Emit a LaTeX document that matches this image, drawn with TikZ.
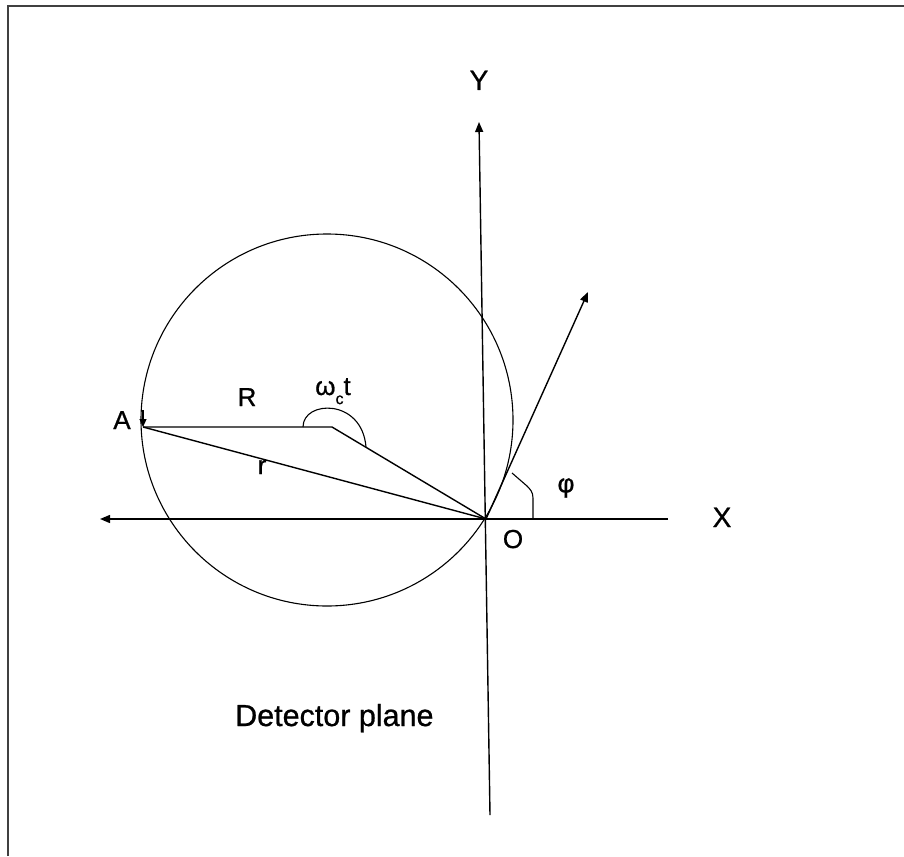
\documentclass[tikz,border=0pt]{standalone}
\usepackage{fontspec}
\setmainfont[FakeBold=0.8]{Liberation Sans}
\usetikzlibrary{arrows.meta}
\begin{document}
\begin{tikzpicture}[x=1pt,y=-1pt,
  ln/.style={line width=1.4pt},
  thin line/.style={line width=1.1pt},
  tip/.style={-{Triangle[length=10pt,width=8pt]}},
  lab/.style={font=\fontsize{26}{30}\selectfont, inner sep=0pt},
  axlab/.style={font=\fontsize{28}{32}\selectfont, inner sep=0pt},
  title/.style={font=\fontsize{30.5}{34}\selectfont, inner sep=0pt}]
\useasboundingbox (0,0) rectangle (904,856);
\fill[white] (0,0) rectangle (904,856);
% frame (left and top edges only)
\draw[line width=2pt, black!75] (8,856) -- (8,6) -- (904,6);
% points
\coordinate (O) at (486,519);
\coordinate (C) at (332,427);
\coordinate (A) at (143,427);
\coordinate (Ctr) at (327,420);
\coordinate (Ytop) at (479,122);
\coordinate (Ybot) at (490,815);
\coordinate (Xleft) at (100,519);
\coordinate (Xright) at (668,519);
\coordinate (P) at (588,292);
\coordinate (Astart) at (143,410);
% circle
\draw[thin line] (Ctr) circle[radius=186];
\draw[thin line, -{Triangle[length=8pt,width=7pt]}] (Astart) -- (A);
% axes
\draw[ln, tip] (Ybot) -- (Ytop);
\draw[ln, tip] (Xright) -- (Xleft);
\draw[ln, tip] (O) -- (P);
% radius vectors
\draw[ln] (A) -- (C) -- (O);
\draw[ln] (A) -- (O);
% angle arcs
\draw[thin line] (303,427) .. controls (303,400) and (362,398) .. (366,447);
\draw[thin line] (533,519) -- (533,498) .. controls (533,492) and (530,489) .. (527,486) -- (512,473);
% labels
\node[lab, anchor=base] (lA) at (122,429) {A};
\node[lab, anchor=base] (lR) at (247,406) {R};
\node[lab, anchor=center] (lr) at (262,467) {r};
\node[lab, anchor=base] (lw) at (333,395) {ω\raisebox{-0.35em}{\fontsize{16}{16}\selectfont c}t};
\node[lab, anchor=base] (lO) at (513,548) {O};
\node[lab, anchor=center] (lphi) at (566,488) {φ};
\node[axlab, anchor=base] (lX) at (722,527) {X};
\node[axlab, anchor=base] (lY) at (479,90) {Y};
\node[title, anchor=base west] (ldet) at (235,726) {Detector plane};
\end{tikzpicture}
\end{document}
